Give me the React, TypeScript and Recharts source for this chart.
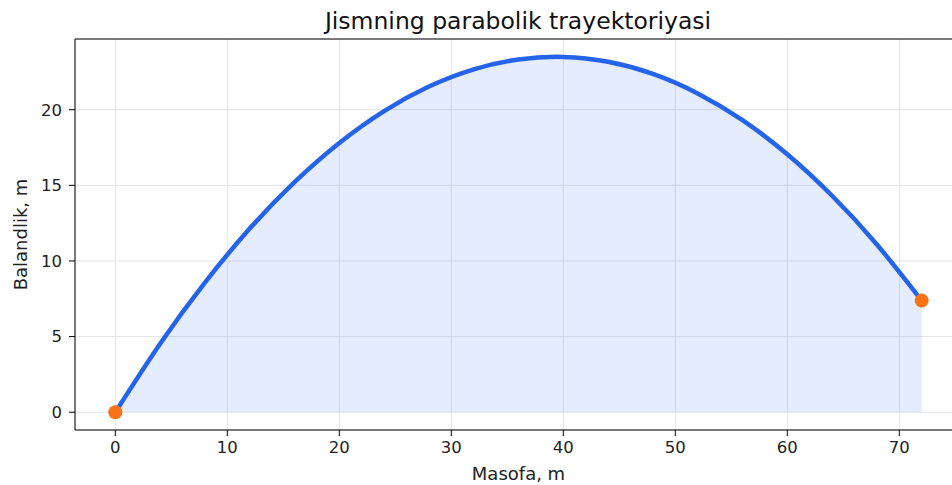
import { ComposedChart, Area, Line, Scatter, XAxis, YAxis, CartesianGrid, ReferenceLine, Label } from 'recharts';

// trajectory (m)
const distances = [0, 4, 8, 12, 16, 20, 24, 28, 32, 36, 40, 44, 48, 52, 56, 60, 64, 68, 72];
const heights = [0, 4.53, 8.57, 12.14, 15.21, 17.8, 19.91, 21.53, 22.67, 23.32, 23.49, 23.17, 22.37, 21.08, 19.31, 17.05, 14.31, 11.09, 7.38];

const endDistances = [0, 72];
const endHeights = [0, 7.38];

const xTicks = [0, 10, 20, 30, 40, 50, 60, 70];
const yTicks = [0, 5, 10, 15, 20];

const X_DOMAIN: [number, number] = [-3.6, 75.6];
const Y_DOMAIN: [number, number] = [-1.175, 24.675];

const font = 'DejaVu Sans, sans-serif';

const path = distances.map((x, i) => ({ x, y: heights[i] }));
const ends = endDistances.map((x, i) => ({ x, y: endHeights[i] }));

export default function App() {
  const tick = { fontSize: 16.5, fill: '#222', fontFamily: font };
  const labelStyle = { fontSize: 18, fill: '#222', fontFamily: font };
  return (
    <div style={{ position: 'absolute', left: 0, top: 0, width: 952, height: 485, overflow: 'hidden', background: '#fff' }}>
      <div style={{ position: 'absolute', top: 7, left: 518, transform: 'translateX(-50%)', whiteSpace: 'nowrap', fontFamily: font, fontSize: 23.5, color: '#111', lineHeight: '28px' }}>
        Jismning parabolik trayektoriyasi
      </div>
      <ComposedChart width={1000} height={485} margin={{ top: 39, right: 38, bottom: 0, left: 0 }}>
        <CartesianGrid stroke="#e4e4e4" strokeWidth={1} />
        <XAxis
          type="number"
          dataKey="x"
          domain={X_DOMAIN}
          ticks={xTicks}
          allowDataOverflow
          height={55}
          tick={tick}
          tickSize={6}
          tickMargin={5}
          tickLine={{ stroke: '#000' }}
          axisLine={{ stroke: '#000' }}
        >
          <Label value="Masofa, m" position="insideBottom" offset={5} style={labelStyle} />
        </XAxis>
        <YAxis
          type="number"
          dataKey="y"
          domain={Y_DOMAIN}
          ticks={yTicks}
          allowDataOverflow
          width={75}
          tick={tick}
          tickSize={6}
          tickMargin={7}
          tickLine={{ stroke: '#000' }}
          axisLine={{ stroke: '#000' }}
        >
          <Label value="Balandlik, m" angle={-90} position="insideLeft" offset={21} style={{ ...labelStyle, textAnchor: 'middle' }} />
        </YAxis>
        <ReferenceLine y={Y_DOMAIN[1]} stroke="#000" strokeWidth={1} />
        <Area
          data={path}
          dataKey="y"
          type="natural"
          baseValue={0}
          stroke="none"
          fill="#2563eb"
          fillOpacity={0.12}
          isAnimationActive={false}
        />
        <Scatter
          data={ends}
          dataKey="y"
          fill="#f97316"
          isAnimationActive={false}
          shape={(p: any) => <circle cx={p.cx} cy={p.cy} r={7} fill="#f97316" />}
        />
        <Line
          data={path}
          dataKey="y"
          type="natural"
          stroke="#2563eb"
          strokeWidth={4.5}
          dot={false}
          activeDot={false}
          isAnimationActive={false}
        />
      </ComposedChart>
    </div>
  );
}
